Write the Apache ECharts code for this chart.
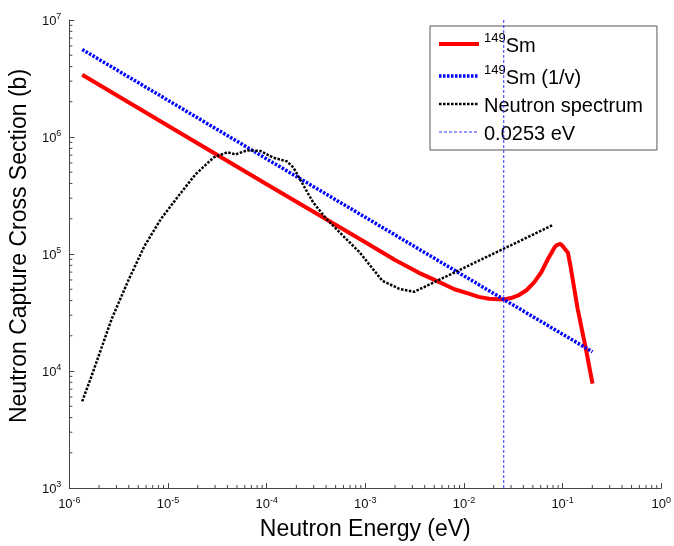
<!DOCTYPE html>
<html><head><meta charset="utf-8">
<script src="https://cdn.jsdelivr.net/npm/echarts@6/dist/echarts.min.js"></script>
<style>html,body{margin:0;padding:0;background:#fff}#c{width:674px;height:546px}</style>
</head><body><div id="c"></div>
<script>
// 149Sm capture cross section (b) vs neutron energy (eV)
const energySm = [1.35e-6, 1e-5, 1e-4, 1e-3, 2e-3, 3.5e-3, 5.5e-3, 8e-3, 0.011, 0.0141, 0.018, 0.0253, 0.03, 0.0355, 0.043, 0.0517, 0.0608, 0.071, 0.078, 0.0828, 0.087, 0.091, 0.095, 0.1, 0.106, 0.113, 0.1216, 0.142, 0.172, 0.201];
const sigmaSm  = [3.4e6, 1.25e6, 3.95e5, 1.26e5, 8.9e4, 6.9e4, 5.8e4, 5.0e4, 4.6e4, 4.3e4, 4.15e4, 4.08e4, 4.2e4, 4.42e4, 4.9e4, 5.74e4, 6.98e4, 9.06e4, 1.04e5, 1.14e5, 1.19e5, 1.22e5, 1.22e5, 1.17e5, 1.1e5, 1.03e5, 7.45e4, 3.4e4, 1.55e4, 7.8e3];
// 1/v reference line
const energyV = [1.35e-6, 1e-5, 1e-4, 1e-3, 1e-2, 0.0253, 0.1, 0.201];
const sigmaV  = [5.6e6, 2.06e6, 6.5e5, 2.06e5, 6.5e4, 4.09e4, 2.06e4, 1.46e4];
// Neutron spectrum (arbitrary units on same axis)
const energySpec = [1.35e-6, 1.69e-6, 2.69e-6, 3.98e-6, 5.77e-6, 8.5e-6, 1.27e-5, 1.9e-5, 2.91e-5, 4.0e-5, 4.84e-5, 6.35e-5, 8.65e-5, 1.17e-4, 1.6e-4, 1.87e-4, 2.18e-4, 2.95e-4, 4.05e-4, 5.94e-4, 8.7e-4, 1.49e-3, 2.21e-3, 3.13e-3, 0.0798];
const fluxSpec   = [5.5e3, 9.2e3, 2.8e4, 6.0e4, 1.17e5, 2.0e5, 3.12e5, 4.8e5, 6.7e5, 7.4e5, 7.1e5, 7.7e5, 7.6e5, 6.65e5, 6.2e5, 5.47e5, 4.35e5, 2.77e5, 1.99e5, 1.43e5, 1.04e5, 5.9e4, 5.04e4, 4.75e4, 1.77e5];
// thermal reference energy
const refEnergy = [0.0253, 0.0253];
const refSigma = [1e3, 1e7];
const seriesNames = ['149Sm', '149Sm (1/v)', 'Neutron spectrum', '0.0253 eV'];

const xMin = 1e-6, xMax = 1, yMin = 1e3, yMax = 1e7;
const xMinor = [], yMinor = [];
for (let e = -6; e < 0; e++) for (let k = 2; k <= 9; k++) xMinor.push(k * Math.pow(10, e));
for (let e = 3; e < 7; e++) for (let k = 2; k <= 9; k++) yMinor.push(k * Math.pow(10, e));

const zip = (a, b) => a.map((v, i) => [v, b[i]]);
const FONT = 'Liberation Sans';
const AX = '#444';

const expFmt = v => { const e = Math.round(Math.log10(v)); return '{b|10}{s|' + e + '}'; };
const tickRich = {
  b: { fontSize: 13, lineHeight: 15, verticalAlign: 'bottom', fontFamily: FONT, color: '#111' },
  s: { fontSize: 9, lineHeight: 9, verticalAlign: 'top', fontFamily: FONT, color: '#111' }
};

const chart = echarts.init(document.getElementById('c'), null, { renderer: 'canvas' });
chart.setOption({
  animation: false,
  backgroundColor: '#fff',
  grid: { left: 67, right: 10, top: 20, bottom: 56 },
  xAxis: {
    type: 'log', logBase: 10, min: xMin, max: xMax, splitNumber: 6,
    name: 'Neutron Energy (eV)', nameLocation: 'middle', nameGap: 30,
    nameTextStyle: { fontFamily: FONT, fontSize: 23, color: '#000' },
    axisLine: { show: true, lineStyle: { color: AX, width: 1 } },
    axisTick: { show: true, inside: true, length: 5, lineStyle: { color: AX } },
    axisLabel: { formatter: expFmt, rich: tickRich, margin: 8 },
    splitLine: { show: false }
  },
  yAxis: {
    type: 'log', logBase: 10, min: yMin, max: yMax, splitNumber: 4,
    name: 'Neutron Capture Cross Section (b)', nameLocation: 'middle', nameGap: 28,
    nameTextStyle: { fontFamily: FONT, fontSize: 23, color: '#000', padding: [0, 0, 0, 16] },
    axisLine: { show: true, lineStyle: { color: AX, width: 1 } },
    axisTick: { show: true, inside: true, length: 5, lineStyle: { color: AX } },
    axisLabel: { formatter: expFmt, rich: tickRich, margin: 8 },
    splitLine: { show: false }
  },
  legend: {
    data: seriesNames,
    orient: 'vertical', left: 430, top: 26,
    padding: [6, 14, 6, 7], itemGap: 8, itemWidth: 40, itemHeight: 14,
    backgroundColor: '#fff', borderColor: '#555', borderWidth: 1,
    lineStyle: { width: 'inherit' },
    itemStyle: { color: 'rgba(0,0,0,0)', borderWidth: 0, opacity: 0 },
    formatter: n => n.indexOf('149') === 0 ? '{sup|149}{n|' + n.slice(3) + '}' : '{n|' + n + '}',
    textStyle: {
      fontFamily: FONT, fontSize: 20, color: '#000',
      rich: {
        n: { fontFamily: FONT, fontSize: 20, lineHeight: 24, verticalAlign: 'bottom', color: '#000' },
        sup: { fontFamily: FONT, fontSize: 13, lineHeight: 13, verticalAlign: 'top', color: '#000' }
      }
    }
  },
  series: [
    { name: seriesNames[0], type: 'line', data: zip(energySm, sigmaSm), showSymbol: false, symbol: 'none',
      lineStyle: { color: '#ff0000', width: 4, join: 'round' }, itemStyle: { color: '#ff0000' }, z: 2 },
    { name: seriesNames[1], type: 'line', data: zip(energyV, sigmaV), showSymbol: false, symbol: 'none',
      lineStyle: { color: '#0000ff', width: 3.5, type: [2.5, 1.5] }, itemStyle: { color: '#0000ff' }, z: 3 },
    { name: seriesNames[2], type: 'line', data: zip(energySpec, fluxSpec), showSymbol: false, symbol: 'none',
      lineStyle: { color: '#000', width: 2.5, type: [2.5, 1.5] }, itemStyle: { color: '#000' }, z: 4 },
    { name: seriesNames[3], type: 'line', data: zip(refEnergy, refSigma), showSymbol: false, symbol: 'none',
      lineStyle: { color: '#3333ff', width: 1, type: [3, 2] }, itemStyle: { color: '#3333ff' }, z: 5 },
    { type: 'custom', silent: true, data: xMinor.map(v => [v, yMin]), encode: { x: 0, y: 1 }, z: 6,
      renderItem: (p, api) => { const c = api.coord([api.value(0), api.value(1)]);
        return { type: 'line', shape: { x1: c[0], y1: c[1], x2: c[0], y2: c[1] - 3 }, style: { stroke: AX, lineWidth: 1 } }; } },
    { type: 'custom', silent: true, data: yMinor.map(v => [xMin, v]), encode: { x: 0, y: 1 }, z: 6,
      renderItem: (p, api) => { const c = api.coord([api.value(0), api.value(1)]);
        return { type: 'line', shape: { x1: c[0], y1: c[1], x2: c[0] + 3, y2: c[1] }, style: { stroke: AX, lineWidth: 1 } }; } }
  ]
});
</script></body></html>
